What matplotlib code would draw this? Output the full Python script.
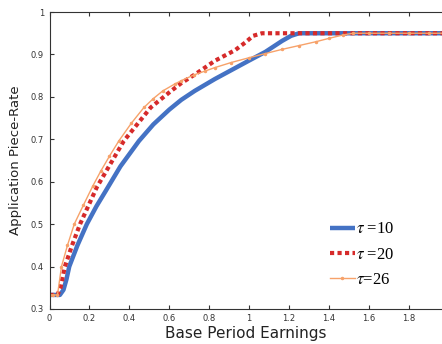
import matplotlib
matplotlib.use("Agg")
import matplotlib.pyplot as plt
from matplotlib.ticker import FuncFormatter

# tau = 10
x10 = [0, 0.052, 0.07, 0.085, 0.099, 0.14, 0.187, 0.235, 0.28, 0.355, 0.448, 0.52, 0.6,
       0.66, 0.727, 0.828, 0.997, 1.081, 1.165, 1.21, 1.25, 1.97]
y10 = [0.333, 0.333, 0.345, 0.37, 0.40, 0.45, 0.50, 0.542, 0.577, 0.636, 0.696, 0.735,
       0.77, 0.793, 0.814, 0.842, 0.885, 0.906, 0.932, 0.944, 0.95, 0.95]
# tau = 20
x20 = [0, 0.04, 0.055, 0.077, 0.113, 0.153, 0.237, 0.372, 0.507, 0.609, 0.659, 0.735,
       0.828, 0.929, 0.98, 1.02, 1.064, 1.97]
y20 = [0.333, 0.333, 0.35, 0.40, 0.45, 0.50, 0.587, 0.696, 0.775, 0.814, 0.832, 0.855,
       0.885, 0.91, 0.928, 0.944, 0.95, 0.95]
# tau = 26
x26 = [0, 0.02, 0.04, 0.06, 0.09, 0.124, 0.17, 0.217, 0.258, 0.3, 0.347, 0.41, 0.473,
       0.52, 0.567, 0.626, 0.659, 0.725, 0.78, 0.828, 0.91, 0.997, 1.08, 1.165, 1.25,
       1.334, 1.4, 1.47, 1.52, 1.6, 1.7, 1.8, 1.9, 1.97]
y26 = [0.333, 0.333, 0.333, 0.40, 0.45, 0.50, 0.545, 0.59, 0.626, 0.66, 0.696, 0.738, 0.775,
       0.796, 0.814, 0.83, 0.838, 0.852, 0.861, 0.869, 0.881, 0.892, 0.902, 0.912, 0.921,
       0.93, 0.938, 0.946, 0.95, 0.95, 0.95, 0.95, 0.95, 0.95]

xticks = [0, 0.2, 0.4, 0.6, 0.8, 1, 1.2, 1.4, 1.6, 1.8]
yticks = [0.3, 0.4, 0.5, 0.6, 0.7, 0.8, 0.9, 1]

plt.rcParams["mathtext.fontset"] = "stix"

fig = plt.figure(figsize=(4.42, 3.44), dpi=100)
ax = fig.add_axes([0.112, 0.102, 0.89, 0.863])

ax.plot(x10, y10, color="#4472c4", lw=3.2, solid_capstyle="butt", label=r"$\tau$ =10")
ax.plot(x20, y20, color="#d62a2a", lw=3.0, ls=(0, (1, 0.8)), label=r"$\tau$ =20")
ax.plot(x26, y26, color="#f7a26a", lw=1.0, marker=".", ms=3, label=r"$\tau$=26")

ax.set_xlim(0, 1.97)
ax.set_ylim(0.3, 1)
ax.set_xticks(xticks)
ax.set_yticks(yticks)
ax.xaxis.set_major_formatter(FuncFormatter(lambda v, p: "%g" % v))
ax.yaxis.set_major_formatter(FuncFormatter(lambda v, p: "%g" % v))
ax.tick_params(direction="in", length=3, width=0.8, labelsize=6, colors="#333333",
               top=True, right=False, pad=4)
for s in ["left", "bottom", "top"]:
    ax.spines[s].set_color("#333333")
    ax.spines[s].set_linewidth(0.8)
ax.spines["right"].set_visible(False)

ax.set_xlabel("Base Period Earnings", fontsize=11, color="#222222", labelpad=2)
ax.set_ylabel("Application Piece-Rate", fontsize=9.5, color="#222222", labelpad=6)

ax.legend(loc="upper left", bbox_to_anchor=(0.712, 0.295), frameon=False,
          borderaxespad=0, borderpad=0,
          handlelength=1.5, handletextpad=0.1, labelspacing=0.55,
          prop={"family": "Liberation Serif", "size": 12})

fig.savefig("out.png", dpi=100)
